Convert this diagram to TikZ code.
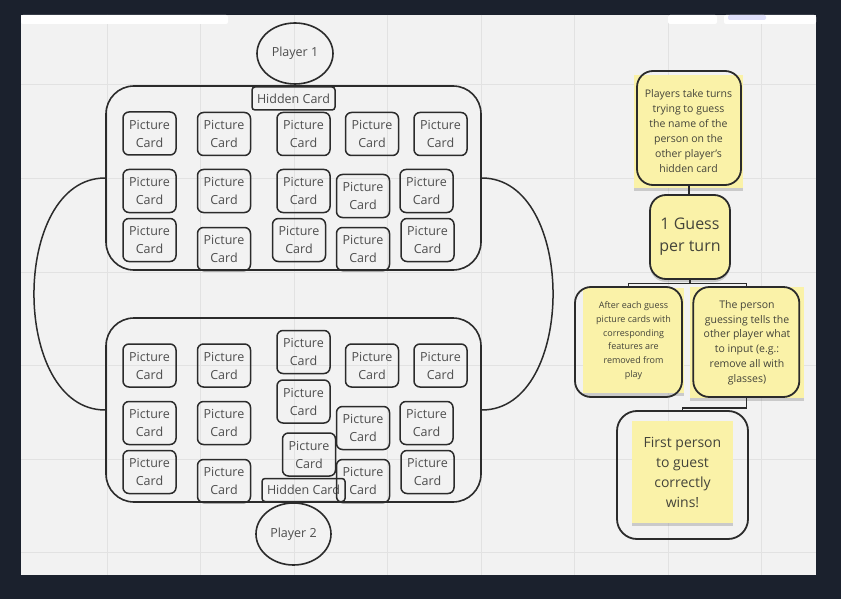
\documentclass[tikz,border=0pt]{standalone}
\usepackage{fontspec}
\setmainfont{Open Sans}
\usepackage{xcolor}
\usepackage{tikz}
\usetikzlibrary{shapes.geometric,shadows}
\definecolor{bg}{HTML}{1B212D}
\definecolor{canvas}{HTML}{F2F2F2}
\definecolor{gridc}{HTML}{E2E2E2}
\definecolor{ink}{HTML}{2B2B2B}
\definecolor{cardtext}{HTML}{4E4E4E}
\definecolor{notefill}{HTML}{FAF2A8}
\definecolor{notetext}{HTML}{44443A}
\definecolor{chip}{HTML}{DFE0FA}
\tikzset{
  gridline/.style={draw=gridc, line width=1pt},
  board/.style={draw=ink, line width=1.6pt, rounded corners=28pt,
    minimum width=375pt, minimum height=184pt, inner sep=0pt},
  card/.style={
    draw=ink, line width=1.5pt, rounded corners=6pt,
    minimum width=53pt, minimum height=43pt, inner sep=0pt,
    align=center, text=cardtext,
    font=\fontsize{12.5}{18}\selectfont
  },
  hidden/.style={card, rounded corners=3pt, minimum width=83pt, minimum height=23pt},
  player/.style={ellipse, draw=ink, line width=1.6pt, inner sep=0pt,
    text=cardtext, font=\fontsize{12.5}{15}\selectfont},
  link/.style={draw=ink, line width=1.5pt},
  pad/.style={
    fill=notefill, inner sep=0pt, align=center, text=notetext,
    drop shadow={shadow xshift=0pt, shadow yshift=-3pt, opacity=0.35}
  },
  frame/.style={draw=ink, line width=1.8pt, rounded corners=16pt, inner sep=0pt}
}

\begin{document}
\begin{tikzpicture}[x=1pt, y=-1pt]
  % page and canvas
  \fill[bg] (0,0) rectangle (841,599);
  \useasboundingbox (0,0) rectangle (841,599);
  \fill[canvas] (21,15) rectangle (816,575);
  \foreach \gx in {107,200.5,294,387.5,481,574.5,668,761.5}
    \draw[gridline] (\gx,15) -- (\gx,575);
  \foreach \gy in {85,178.5,272,365.5,459,552.5}
    \draw[gridline] (21,\gy) -- (816,\gy);
  \fill[white, rounded corners=2pt] (21,15) rectangle (228,24);
  \fill[white, rounded corners=2pt] (668,15) rectangle (717,24);
  \fill[white, rounded corners=2pt] (724,15) rectangle (816,24);
  \fill[chip, rounded corners=2pt] (728,15) rectangle (766,20);

  % the two boards
  \node[board] (board1) at (293.5,178) {};
  \node[board] (board2) at (293.5,410) {};
  \draw[link] (board1.west) .. controls +(-95,0) and +(-95,0) .. (board2.west);
  \draw[link] (board1.east) .. controls +(95,0) and +(95,0) .. (board2.east);

  \node[player, minimum width=76pt, minimum height=61pt] (p1) at (295,53.5) {Player 1};
  \node[player, minimum width=75pt, minimum height=62pt] (p2) at (293.5,534) {Player 2};

  \node[hidden] (hid1) at (293.5,98.5) {Hidden Card};
  \node[hidden] (hid2) at (303.5,490) {Hidden Card};

  % cards of player 1
  \node[card] (a11) at (149.5,133.5) {Picture\\Card};
  \node[card] (a12) at (224,134)     {Picture\\Card};
  \node[card] (a13) at (303.5,134)   {Picture\\Card};
  \node[card] (a14) at (372,134)     {Picture\\Card};
  \node[card] (a15) at (440.5,134)   {Picture\\Card};

  \node[card] (a21) at (149.5,191) {Picture\\Card};
  \node[card] (a22) at (224,191)   {Picture\\Card};
  \node[card] (a23) at (303.5,191) {Picture\\Card};
  \node[card] (a24) at (363,196)   {Picture\\Card};
  \node[card] (a25) at (426.5,191) {Picture\\Card};

  \node[card] (a31) at (149.5,240) {Picture\\Card};
  \node[card] (a32) at (224,249)   {Picture\\Card};
  \node[card] (a33) at (299,240)   {Picture\\Card};
  \node[card] (a34) at (363,249)   {Picture\\Card};
  \node[card] (a35) at (427.5,240) {Picture\\Card};

  % cards of player 2
  \node[card] (b11) at (149.5,365.5) {Picture\\Card};
  \node[card] (b12) at (224,365.5)   {Picture\\Card};
  \node[card] (b13) at (303.5,352)   {Picture\\Card};
  \node[card] (b14) at (372,365.5)   {Picture\\Card};
  \node[card] (b15) at (440.5,365.5) {Picture\\Card};

  \node[card] (b21) at (149.5,423) {Picture\\Card};
  \node[card] (b22) at (224,423)   {Picture\\Card};
  \node[card] (b23) at (303.5,401.5) {Picture\\Card};
  \node[card] (b24) at (363,428)   {Picture\\Card};
  \node[card] (b25) at (426.5,423) {Picture\\Card};

  \node[card] (b31) at (149.5,472) {Picture\\Card};
  \node[card] (b32) at (224,481)   {Picture\\Card};
  \node[card] (b33) at (309,454.5) {Picture\\Card};
  \node[card] (b34) at (363,481)   {Picture\\Card};
  \node[card] (b35) at (427.5,472) {Picture\\Card};

  % sticky notes
  \node[pad, minimum width=109pt, minimum height=113pt,
    font=\fontsize{10.5}{15}\selectfont] (s1pad) at (688.5,131.5)
  {Players take turns\\trying to guess\\the name of the\\person on the\\other player's\\hidden card};
  \node[frame, minimum width=104pt, minimum height=114pt] (s1) at (689,128) {};

  \node[frame, pad, minimum width=80pt, minimum height=84pt,
    font=\fontsize{16}{22}\selectfont] (s2) at (690,237) {1 Guess\\per turn};

  \node[pad, minimum width=101pt, minimum height=105pt,
    font=\fontsize{9}{13.7}\selectfont] (s3pad) at (633.5,340.5)
  {After each guess\\picture cards with\\corresponding\\features are\\removed from\\play};
  \node[frame, minimum width=107pt, minimum height=110pt] (s3) at (628.5,342) {};

  \node[pad, minimum width=114pt, minimum height=111pt,
    font=\fontsize{10.5}{14.8}\selectfont] (s4pad) at (747,342.5)
  {The person\\guessing tells the\\other player what\\to input (e.g.:\\remove all with\\glasses)};
  \node[frame, minimum width=106pt, minimum height=110pt] (s4) at (746.3,342) {};

  \node[pad, minimum width=101pt, minimum height=102pt,
    font=\fontsize{14}{20}\selectfont] (s5pad) at (682.5,472)
  {First person\\to guest\\correctly\\wins!};
  \node[frame, rounded corners=20pt, minimum width=131pt, minimum height=128pt] (s5) at (682.5,475) {};

  % connectors between the notes
  \draw[link] (s1.south) -- (s1.south |- s2.north);
  \draw[link] (s2.south) -- ++(0,3.5) -| (s3.north);
  \draw[link] (s2.south) -- ++(0,3.5) -| (s4.north);
  \draw[link] (s4.south) -- ++(0,10) -| (s5.north);
\end{tikzpicture}
\end{document}
